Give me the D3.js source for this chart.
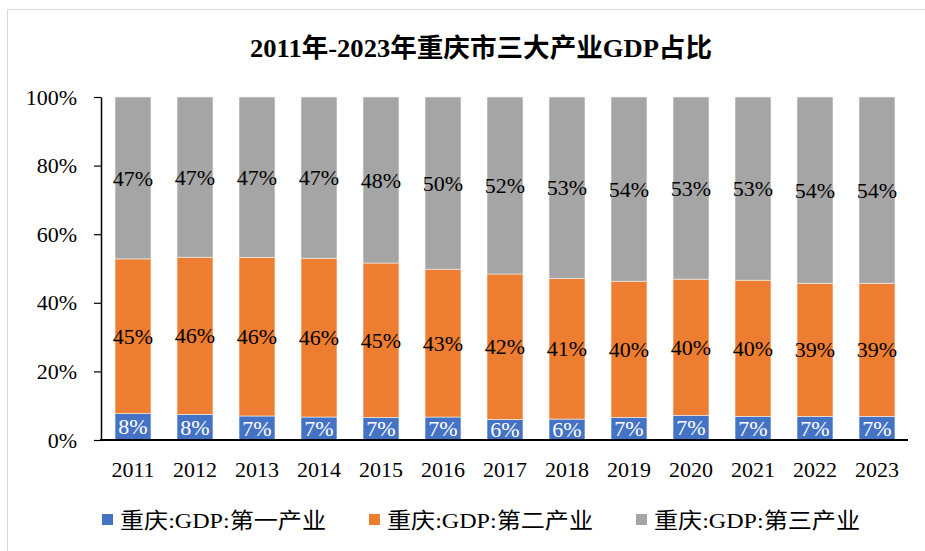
<!DOCTYPE html>
<html>
<head>
<meta charset="utf-8">
<script src="https://cdn.jsdelivr.net/npm/d3@7"></script>
<style>
  body { margin: 0; background: #fff; }
</style>
</head>
<body>
<svg id="chart" width="925" height="551"></svg>
<script>
// data (percent of GDP)
var years = ["2011", "2012", "2013", "2014", "2015", "2016", "2017", "2018", "2019", "2020", "2021", "2022", "2023"];
var primary = [7.7, 7.5, 7.0, 6.7, 6.6, 6.7, 6.0, 6.1, 6.6, 7.2, 6.9, 6.9, 6.9];
var secondary = [45.1, 45.8, 46.2, 46.3, 45.0, 43.1, 42.4, 41.0, 39.7, 39.7, 39.7, 38.8, 38.8];
var tertiary = [47.2, 46.7, 46.8, 47.0, 48.4, 50.2, 51.6, 52.9, 53.7, 53.1, 53.4, 54.3, 54.3];
var seriesNames = ["重庆:GDP:第一产业", "重庆:GDP:第二产业", "重庆:GDP:第三产业"];
var yTicks = [0, 20, 40, 60, 80, 100];
var title = "2011年-2023年重庆市三大产业GDP占比";

var colors = ["#4472C4", "#ED7D31", "#A5A5A5"];
var labelColors = ["#fff", "#000", "#000"];
var serif = "'Liberation Serif', 'Times New Roman', 'Noto Sans CJK SC', serif";

var svg = d3.select("#chart");

// light frame round the chart
svg.append("rect")
    .attr("x", 7.5).attr("y", 9.5)
    .attr("width", 930).attr("height", 550)
    .attr("fill", "none")
    .attr("stroke", "#d9d9d9")
    .attr("stroke-width", 1);

var x = d3.scaleBand().domain(years).range([102, 908])
    .paddingInner(0.42).paddingOuter(0.21);
var y = d3.scaleLinear().domain([0, 100]).range([440, 97]);

var rows = years.map(function(yr, i) {
    return {year: yr, p0: primary[i], p1: secondary[i], p2: tertiary[i]};
});
var layers = d3.stack().keys(["p0", "p1", "p2"])(rows);

var g = svg.append("g");

var layer = g.selectAll("g.layer")
    .data(layers)
    .enter().append("g")
    .attr("class", "layer")
    .attr("fill", function(d, i) { return colors[i]; });

layer.selectAll("rect")
    .data(function(d) { return d; })
    .enter().append("rect")
    .attr("x", function(d) { return x(d.data.year); })
    .attr("y", function(d) { return y(d[1]); })
    .attr("width", x.bandwidth())
    .attr("height", function(d) { return y(d[0]) - y(d[1]); })
    .attr("stroke", "#f2f2f2")
    .attr("stroke-width", 0.6);

layers.forEach(function(ly, i) {
    g.append("g").selectAll("text")
        .data(ly)
        .enter().append("text")
        .attr("x", function(d) { return x(d.data.year) + x.bandwidth() / 2; })
        .attr("y", function(d) { return (y(d[0]) + y(d[1])) / 2; })
        .attr("dy", "0.35em")
        .attr("text-anchor", "middle")
        .style("font-family", serif)
        .style("font-size", "22px")
        .attr("fill", labelColors[i])
        .text(function(d) { return Math.round(d[1] - d[0]) + "%"; });
});

// y axis
var yAxis = g.append("g")
    .attr("transform", "translate(101,0)")
    .call(d3.axisLeft(y).tickValues(yTicks).tickSize(7).tickSizeOuter(0).tickPadding(17)
        .tickFormat(function(d) { return d + "%"; }));
yAxis.select(".domain").attr("stroke", "#000").attr("stroke-width", 1.5);
yAxis.selectAll(".tick line").attr("stroke", "#000").attr("stroke-width", 1.2);
yAxis.selectAll(".tick text")
    .style("font-family", serif)
    .style("font-size", "22px")
    .attr("fill", "#000");

// x axis
var xAxis = g.append("g")
    .attr("transform", "translate(0,440)")
    .call(d3.axisBottom(x).tickSize(0).tickSizeOuter(0).tickPadding(21));
xAxis.select(".domain").attr("stroke", "#000").attr("stroke-width", 1.8)
    .attr("d", "M100,0H908");
xAxis.selectAll(".tick text")
    .style("font-family", serif)
    .style("font-size", "22px")
    .attr("fill", "#000");

// title
svg.append("text")
    .attr("x", 481)
    .attr("y", 57)
    .attr("text-anchor", "middle")
    .style("font-family", serif)
    .style("font-size", "26px")
    .style("font-weight", "bold")
    .attr("textLength", 462)
    .attr("lengthAdjust", "spacingAndGlyphs")
    .attr("fill", "#000")
    .text(title);

// legend
var legendX = [102, 369, 636];
var legend = svg.selectAll("g.legend")
    .data(seriesNames)
    .enter().append("g")
    .attr("class", "legend")
    .attr("transform", function(d, i) { return "translate(" + legendX[i] + ",514)"; });
legend.append("rect")
    .attr("width", 11).attr("height", 11)
    .attr("fill", function(d, i) { return colors[i]; });
legend.append("text")
    .attr("x", 18)
    .attr("y", 6)
    .attr("dy", "0.35em")
    .style("font-family", serif)
    .style("font-size", "22px")
    .attr("textLength", 206)
    .attr("lengthAdjust", "spacingAndGlyphs")
    .attr("fill", "#000")
    .text(function(d) { return d; });
</script>
</body>
</html>
